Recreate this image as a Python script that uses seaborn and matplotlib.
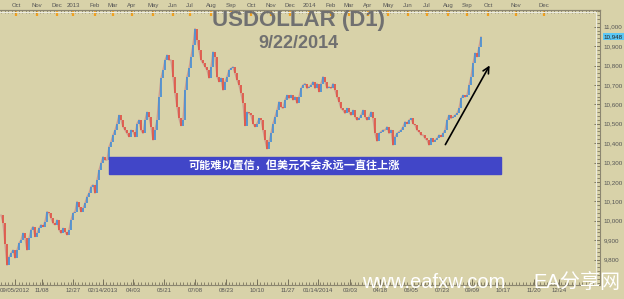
import numpy as np
import pandas as pd
import matplotlib
matplotlib.use("Agg")
import matplotlib.pyplot as plt
from matplotlib.patches import Rectangle
from matplotlib.lines import Line2D
from matplotlib.ticker import FixedLocator, MultipleLocator, FuncFormatter
import seaborn as sns

closes = [
    10030, 9990, 9880, 9771, 9812, 9832, 9849, 9808, 9849, 9884,
    9901, 9936, 9910, 9849, 9910, 9953, 9970, 9918, 9936, 9962,
    9979, 9970, 9996, 10047, 10039, 10013, 9987, 9979, 10004, 9953,
    9936, 9962, 9944, 9927, 9953, 10004, 10039, 10047, 10099, 10073,
    10047, 10065, 10090, 10124, 10142, 10176, 10185, 10142, 10210, 10262,
    10296, 10330, 10313, 10313, 10381, 10407, 10442, 10467, 10501, 10544,
    10519, 10484, 10467, 10450, 10433, 10467, 10459, 10433, 10501, 10519,
    10467, 10450, 10519, 10560, 10536, 10484, 10416, 10467, 10519, 10638,
    10735, 10777, 10828, 10854, 10828, 10828, 10742, 10656, 10587, 10527,
    10490, 10519, 10673, 10742, 10785, 10845, 10906, 10990, 10931, 10880,
    10828, 10811, 10793, 10777, 10735, 10793, 10870, 10845, 10742, 10716,
    10735, 10673, 10716, 10742, 10777, 10785, 10793, 10759, 10725, 10699,
    10656, 10605, 10490, 10560, 10553, 10544, 10501, 10484, 10501, 10527,
    10519, 10467, 10416, 10370, 10407, 10450, 10501, 10536, 10570, 10613,
    10587, 10579, 10622, 10647, 10630, 10647, 10622, 10638, 10605, 10638,
    10682, 10699, 10707, 10682, 10690, 10699, 10716, 10682, 10707, 10664,
    10707, 10742, 10716, 10682, 10690, 10682, 10707, 10673, 10638, 10613,
    10579, 10570, 10553, 10579, 10560, 10544, 10570, 10536, 10519, 10527,
    10544, 10570, 10536, 10519, 10536, 10560, 10527, 10450, 10410, 10450,
    10459, 10467, 10467, 10484, 10450, 10467, 10390, 10433, 10450, 10459,
    10467, 10484, 10510, 10501, 10519, 10527, 10501, 10493, 10467, 10459,
    10442, 10442, 10424, 10416, 10390, 10424, 10407, 10416, 10424, 10442,
    10433, 10450, 10467, 10519, 10544, 10527, 10536, 10544, 10553, 10579,
    10630, 10647, 10638, 10647, 10699, 10742, 10811, 10864, 10845, 10897,
    10948,
]
last_price = 10948

bottom_labels = ["09/05/2012", "11/08", "12/27", "02/14/2013", "04/03", "05/21",
                 "07/08", "08/23", "10/10", "11/27", "01/14/2014", "03/03",
                 "04/18", "06/05", "07/23", "09/09", "10/17", "11/20", "12/24"]
bottom_pos = [7, 20.5, 36, 51, 66, 81.5, 97, 112.5, 128, 143.5, 158.5, 174.5,
              189.5, 205, 220.5, 235.5, 251, 266.5, 279]

top_labels = ["Oct", "Nov", "Dec", "2013", "Feb", "Mar", "Apr", "May", "Jun",
              "Jul", "Aug", "Sep", "Oct", "Nov", "Dec", "2014", "Feb", "Mar",
              "Apr", "May", "Jun", "Jul", "Aug", "Sep", "Oct", "Nov", "Dec"]
top_pos = [7.5, 18, 28, 36, 47, 56, 65.5, 76, 86, 94.5, 105, 115, 125, 135,
           144.5, 154, 165, 174, 183.5, 193.5, 203.5, 213, 223.5, 233, 243.5,
           257.5, 271.5]

y_ticks = [9800, 9900, 10000, 10100, 10200, 10300, 10400, 10500, 10600,
           10700, 10800, 10900, 11000]

title = "USDOLLAR (D1)"
date_text = "9/22/2014"
banner_text = "可能难以置信，但美元不会永远一直往上涨"

df = pd.DataFrame({"i": np.arange(len(closes)), "close": closes})
df["prev"] = df["close"].shift(1).fillna(df["close"])
df["lo"] = df[["prev", "close"]].min(axis=1)
df["hi"] = df[["prev", "close"]].max(axis=1)
df["up"] = df["close"] >= df["prev"]

# ---- style ----
BG = "#D8D2A9"
sns.set_theme(style="white", rc={"axes.facecolor": BG, "figure.facecolor": BG})
plt.rcParams["font.family"] = ["Liberation Sans", "DejaVu Sans"]

fig = plt.figure(figsize=(6.24, 2.99), dpi=100)
ax = fig.add_axes([0, 1 - 285 / 299, 600 / 624, (285 - 10) / 299])
ax.set_facecolor(BG)

# connecting trace underneath the bars
sns.lineplot(data=df, x="i", y="close", ax=ax, color="#c98f8a", lw=1.0,
             alpha=0.8, legend=False)

up = df[df["up"]]
dn = df[~df["up"]]
ax.vlines(up["i"], up["lo"], up["hi"], color="#4a8fd4", lw=1.4, alpha=0.9)
ax.vlines(dn["i"], dn["lo"], dn["hi"], color="#e05448", lw=1.4, alpha=0.9)

ax.set_xlim(-0.5, 299.5)
ax.set_ylim(9669, 11086)
ax.set_xlabel("")
ax.set_ylabel("")

# spines
ax.spines["left"].set_visible(False)
for s in ["top", "bottom", "right"]:
    ax.spines[s].set_color("#8c8670")
    ax.spines[s].set_linewidth(0.8)

# right axis
ax.yaxis.tick_right()
ax.yaxis.set_major_locator(FixedLocator(y_ticks))
ax.yaxis.set_minor_locator(MultipleLocator(20))
ax.yaxis.set_major_formatter(FuncFormatter(lambda v, p: f"{int(v):,}"))
ax.tick_params(axis="y", which="major", direction="in", length=4, width=0.6,
               color="#6a6450", labelsize=4.5, labelcolor="#555555", pad=2.5,
               right=True, left=False)
ax.tick_params(axis="y", which="minor", direction="in", length=2, width=0.5,
               color="#6a6450", right=True, left=False)

# bottom axis
ax.set_xticks(bottom_pos)
ax.set_xticklabels(bottom_labels)
ax.xaxis.set_minor_locator(MultipleLocator(1.75))
ax.tick_params(axis="x", which="major", direction="in", length=4, width=0.6,
               color="#6a6450", labelsize=4.3, labelcolor="#555555", pad=2.5,
               bottom=True, top=False)
ax.tick_params(axis="x", which="minor", direction="in", length=2, width=0.5,
               color="#6a6450", bottom=True, top=False)

# top axis (months)
sec = ax.secondary_xaxis("top")
sec.set_xticks(top_pos)
sec.set_xticklabels(top_labels)
sec.xaxis.set_minor_locator(MultipleLocator(1.75))
sec.tick_params(axis="x", which="major", direction="in", length=4, width=1.6,
                color="#f0a020", labelsize=4.3, labelcolor="#555555", pad=1.5)
sec.tick_params(axis="x", which="minor", direction="in", length=2, width=0.5,
                color="#6a6450")
sec.spines["top"].set_color("#8c8670")
sec.spines["top"].set_linewidth(0.8)

ax.grid(False)

# current price label
ax.text(1.006, last_price, f"{last_price:,}", transform=ax.get_yaxis_transform(),
        fontsize=4.5, color="#222222", va="center", ha="left",
        bbox=dict(boxstyle="square,pad=0.15", fc="#5BC8F5", ec="none"))

# light inner border
fig.add_artist(Line2D([0, 596 / 624], [1 - 12 / 299] * 2, color="#ecebe0", lw=0.8))
fig.add_artist(Line2D([596 / 624] * 2, [1 - 12 / 299, 1 - 285 / 299], color="#ecebe0", lw=0.8))

# titles
fig.text(298 / 624, 1 - 20.5 / 299, title, ha="center", va="center",
         fontsize=16, fontweight="bold", color="#707070")
fig.text(298 / 624, 1 - 43 / 299, date_text, ha="center", va="center",
         fontsize=13, fontweight="bold", color="#707070")

# banner
fig.add_artist(Rectangle((109 / 624, 1 - 174 / 299), 392 / 624, 17 / 299,
                         transform=fig.transFigure, color="#4146C8", zorder=5))
fig.text(188 / 624, 1 - 165.5 / 299, banner_text, ha="left", va="center",
         fontsize=8, color="white", fontweight="bold", zorder=6,
         family=["Noto Sans CJK SC", "DejaVu Sans"])

# arrow
ax.annotate("", xy=(245, 10813), xytext=(221.5, 10380),
            arrowprops=dict(arrowstyle="->", color="black", lw=1.2,
                            mutation_scale=11))

# watermark
fig.text(362 / 624, 1 - 283 / 299, "www.eafxw.com", ha="left", va="center",
         fontsize=14.5, color="white", zorder=10)
fig.text(533 / 624, 1 - 283 / 299, "EA分享网", ha="left", va="center",
         fontsize=14.5, color="white", zorder=10,
         family=["Liberation Sans", "Noto Sans CJK SC"])

fig.savefig("out.png", dpi=100, facecolor=BG)
